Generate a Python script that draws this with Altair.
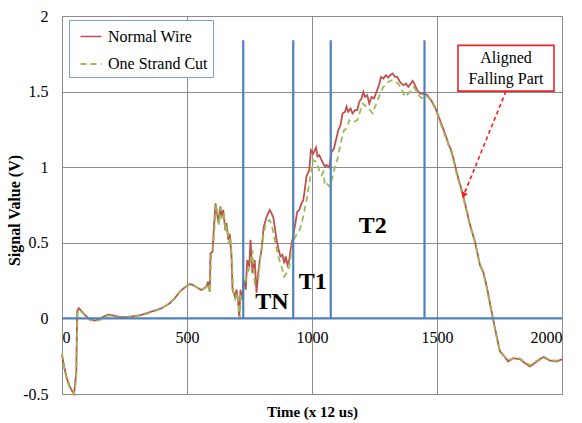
import altair as alt
import pandas as pd

# Sampled waveforms (time in units of 12 us, signal in volts)
normal_t = [0, 10, 20, 31, 37, 48, 57, 61, 67, 80, 91, 111, 131, 151, 170, 184, 200, 211, 238, 278,
            318, 358, 398, 431, 451, 471, 491, 511, 524, 544, 558, 578, 584, 591, 594, 602, 607, 614,
            620, 626, 634, 639, 645, 653, 658, 665, 671, 678, 682, 691, 698, 705, 709, 714, 721, 727,
            735, 741, 749, 754, 762, 771, 778, 785, 791, 798, 807, 818, 831, 838, 845, 851, 858, 867,
            874, 882, 889, 895, 902, 909, 914, 922, 931, 941, 949, 958, 965, 971, 978, 989, 996, 1005,
            1016, 1022, 1029, 1038, 1045, 1052, 1058, 1069, 1078, 1088, 1096, 1105, 1114, 1122, 1132,
            1138, 1145, 1154, 1162, 1172, 1181, 1189, 1198, 1205, 1212, 1221, 1229, 1238, 1248, 1258,
            1268, 1276, 1285, 1296, 1305, 1312, 1323, 1332, 1341, 1352, 1365, 1376, 1385, 1403, 1412,
            1421, 1432, 1443, 1459, 1472, 1492, 1512, 1532, 1545, 1559, 1572, 1585, 1599, 1612, 1632,
            1652, 1672, 1685, 1699, 1712, 1725, 1739, 1752, 1765, 1785, 1805, 1832, 1852, 1872, 1899,
            1925, 1952, 1979, 2000]
normal_v = [-0.24, -0.33, -0.40, -0.45, -0.47, -0.50, -0.36, 0.05, 0.067, 0.045, 0.023, -0.005, -0.015,
            -0.005, 0.015, 0.025, 0.02, 0.017, 0.008, 0.012, 0.023, 0.045, 0.067, 0.10, 0.133, 0.177,
            0.205, 0.228, 0.221, 0.20, 0.188, 0.21, 0.243, 0.177, 0.43, 0.44, 0.585, 0.76, 0.695, 0.63,
            0.74, 0.67, 0.717, 0.585, 0.63, 0.52, 0.56, 0.41, 0.19, 0.145, 0.19, 0.10, 0.012, 0.19,
            0.122, 0.254, 0.19, 0.386, 0.342, 0.52, 0.30, 0.386, 0.17, 0.30, 0.386, 0.45, 0.606, 0.67,
            0.717, 0.695, 0.67, 0.606, 0.52, 0.45, 0.41, 0.42, 0.364, 0.41, 0.353, 0.386, 0.45, 0.52,
            0.606, 0.705, 0.717, 0.76, 0.78, 0.85, 0.94, 0.98, 1.113, 1.09, 1.13, 1.07, 1.08, 1.047,
            1.025, 1.003, 1.014, 0.999, 1.10, 1.124, 1.18, 1.245, 1.278, 1.355, 1.366, 1.40, 1.366,
            1.388, 1.355, 1.377, 1.377, 1.432, 1.454, 1.498, 1.465, 1.476, 1.421, 1.465, 1.454, 1.498,
            1.542, 1.597, 1.586, 1.608, 1.593, 1.608, 1.62, 1.597, 1.597, 1.564, 1.542, 1.553, 1.531,
            1.571, 1.542, 1.509, 1.487, 1.487, 1.48, 1.454, 1.399, 1.311, 1.223, 1.157, 1.102, 1.014,
            0.926, 0.849, 0.761, 0.62, 0.507, 0.353, 0.309, 0.21, 0.10, -0.01, -0.12, -0.219, -0.241,
            -0.285, -0.263, -0.27, -0.296, -0.318, -0.285, -0.256, -0.279, -0.285, -0.27]

cut_t = [0, 10, 20, 31, 40, 48, 57, 62, 68, 80, 91, 111, 131, 151, 170, 184, 200, 211, 238, 278, 318,
         358, 398, 431, 451, 471, 491, 511, 524, 544, 558, 578, 586, 592, 597, 604, 610, 616, 622, 628,
         636, 641, 647, 655, 660, 667, 674, 680, 685, 693, 700, 707, 711, 716, 725, 738, 751, 762, 771,
         785, 794, 805, 815, 829, 838, 851, 865, 878, 889, 898, 909, 918, 927, 941, 951, 965, 975, 978,
         991, 998, 1005, 1018, 1029, 1038, 1045, 1052, 1058, 1072, 1082, 1092, 1101, 1109, 1118, 1128,
         1138, 1149, 1158, 1168, 1181, 1192, 1202, 1212, 1221, 1232, 1243, 1252, 1265, 1276, 1285,
         1296, 1305, 1318, 1332, 1345, 1358, 1372, 1385, 1398, 1408, 1419, 1432, 1445, 1459, 1472,
         1492, 1512, 1532, 1545, 1559, 1572, 1585, 1599, 1612, 1632, 1652, 1672, 1685, 1699, 1712,
         1725, 1739, 1752, 1765, 1785, 1805, 1832, 1852, 1872, 1899, 1925, 1952, 1979, 2000]
cut_v = [-0.23, -0.34, -0.41, -0.46, -0.48, -0.50, -0.40, 0.03, 0.06, 0.04, 0.02, -0.01, -0.02, -0.01,
         0.01, 0.02, 0.015, 0.01, 0.005, 0.01, 0.02, 0.04, 0.065, 0.10, 0.13, 0.175, 0.205, 0.225,
         0.22, 0.20, 0.19, 0.205, 0.23, 0.17, 0.42, 0.45, 0.60, 0.75, 0.70, 0.62, 0.73, 0.66, 0.70,
         0.57, 0.61, 0.50, 0.54, 0.38, 0.18, 0.13, 0.17, 0.08, 0.0, 0.15, 0.19, 0.276, 0.342, 0.45,
         0.232, 0.254, 0.41, 0.54, 0.63, 0.65, 0.63, 0.52, 0.41, 0.342, 0.276, 0.30, 0.342, 0.45,
         0.52, 0.563, 0.585, 0.672, 0.76, 0.78, 0.915, 0.98, 1.047, 1.036, 0.98, 0.948, 0.97, 0.882,
         0.893, 0.871, 0.937, 1.003, 1.047, 1.113, 1.18, 1.245, 1.256, 1.311, 1.30, 1.30, 1.311,
         1.366, 1.421, 1.41, 1.388, 1.377, 1.355, 1.399, 1.454, 1.498, 1.531, 1.542, 1.564, 1.575,
         1.564, 1.553, 1.52, 1.465, 1.487, 1.509, 1.531, 1.498, 1.465, 1.454, 1.47, 1.45, 1.39, 1.30,
         1.21, 1.15, 1.09, 1.00, 0.915, 0.835, 0.75, 0.61, 0.50, 0.35, 0.30, 0.20, 0.09, -0.02, -0.13,
         -0.225, -0.245, -0.275, -0.265, -0.265, -0.29, -0.31, -0.28, -0.25, -0.275, -0.28, -0.265]

series_names = ["Normal Wire", "One Strand Cut"]
series_colors = ["#C0504D", "#9BBB59"]

# Phase boundaries and phase names
boundary_t = [725, 925, 1075, 1450]
boundary_top = 1.84
phase_names = ["TN", "T1", "T2"]
phase_t = [840, 1003, 1243]
phase_v = [0.11, 0.24, 0.61]

# Callout box, text and arrow
note_lines = ["Aligned", "Falling Part"]
note_box = {"t0": 1584, "t1": 1968, "v0": 1.503, "v1": 1.806}
note_text_t = 1776
note_text_v = [1.72, 1.585]
arrow_from = (1776, 1.503)
arrow_to = (1608, 0.82)

x_ticks = [0, 500, 1000, 1500, 2000]
y_ticks = [-0.5, 0, 0.5, 1, 1.5, 2]

W, H = 500, 378
serif = "Liberation Serif"

waves = pd.concat([
    pd.DataFrame({"t": normal_t, "v": normal_v, "series": series_names[0], "order": range(len(normal_t))}),
    pd.DataFrame({"t": cut_t, "v": cut_v, "series": series_names[1], "order": range(len(cut_t))}),
])

x_scale = alt.Scale(domain=[0, 2000], nice=False, zero=False)
y_scale = alt.Scale(domain=[-0.5, 2], nice=False, zero=False)

# x axis sits on the zero line, as in a spreadsheet chart
x_axis = alt.Axis(values=x_ticks, grid=True, gridColor="#8C8C8C", gridWidth=1, domain=False,
                  ticks=False, labelFont=serif, labelFontSize=16, labelColor="black",
                  labelPadding=11, format="d", offset=-H * 0.5 / 2.5,
                  title="Time (x 12 us)", titleFont=serif, titleFontSize=15, titleFontWeight="bold",
                  titleColor="black", titleY=86)
y_axis = alt.Axis(values=y_ticks, grid=True, gridColor="#8C8C8C", gridWidth=1, domain=False,
                  ticks=False, labelFont=serif, labelFontSize=16, labelColor="black",
                  labelPadding=14,
                  labelExpr="replace(format(datum.value, '~g'), '\u2212', '-')",
                  title="Signal Value (V)", titleFont=serif, titleFontSize=16,
                  titleFontWeight="bold", titleColor="black", titleX=-40, titleY=194)

lines = alt.Chart(waves).mark_line(strokeWidth=1.8).encode(
    x=alt.X("t:Q", scale=x_scale, axis=x_axis),
    y=alt.Y("v:Q", scale=y_scale, axis=y_axis),
    color=alt.Color("series:N", scale=alt.Scale(domain=series_names, range=series_colors),
                    legend=alt.Legend(title=None, orient="none", legendX=7, legendY=4,
                                      strokeColor="#7F9FCF", fillColor="white",
                                      padding=5, rowPadding=7, symbolType="stroke",
                                      symbolSize=441, symbolStrokeWidth=2, symbolOffset=5,
                                      labelOffset=5,
                                      labelFont=serif, labelFontSize=16, labelColor="black")),
    strokeDash=alt.StrokeDash("series:N",
                              scale=alt.Scale(domain=series_names, range=[[1, 0], [6, 4]])),
    strokeWidth=alt.StrokeWidth("series:N",
                                scale=alt.Scale(domain=series_names, range=[1.6, 2.2]),
                                legend=None),
    order="order:Q",
)

boundaries = alt.Chart(pd.DataFrame({"t": boundary_t, "base": 0.0, "top": boundary_top})).mark_rule(
    color="#4F81BD", strokeWidth=2.2).encode(x="t:Q", y="base:Q", y2="top:Q")

zero_line = alt.Chart(pd.DataFrame({"a": [x_ticks[0]], "b": [x_ticks[-1]], "v": [0.0]})).mark_rule(
    color="#4F81BD", strokeWidth=2.2).encode(x="a:Q", x2="b:Q", y="v:Q")

phases = alt.Chart(pd.DataFrame({"name": phase_names, "t": phase_t, "v": phase_v})).mark_text(
    font=serif, fontSize=24, fontWeight="bold", color="black").encode(x="t:Q", y="v:Q", text="name:N")

box = alt.Chart(pd.DataFrame([note_box])).mark_rect(
    fill="white", stroke="#E8262B", strokeWidth=1.6).encode(x="t0:Q", x2="t1:Q", y="v0:Q", y2="v1:Q")

box_text = alt.Chart(pd.DataFrame({"txt": note_lines, "t": note_text_t, "v": note_text_v})).mark_text(
    font=serif, fontSize=16, color="black").encode(x="t:Q", y="v:Q", text="txt:N")

arrow_line = alt.Chart(pd.DataFrame({"a": [arrow_from[0]], "b": [arrow_to[0]],
                                     "va": [arrow_from[1]], "vb": [arrow_to[1]]})).mark_rule(
    color="#FF1A1A", strokeWidth=1.6, strokeDash=[4, 3]).encode(x="a:Q", x2="b:Q", y="va:Q", y2="vb:Q")

arrow_head = alt.Chart(pd.DataFrame({"t": [arrow_to[0]], "v": [arrow_to[1]]})).mark_point(
    shape="triangle", filled=True, color="#FF1A1A", size=45, angle=202, opacity=1).encode(
    x="t:Q", y="v:Q")

chart = alt.layer(lines, zero_line, boundaries, phases, box, box_text, arrow_line, arrow_head).properties(
    width=W, height=H,
    autosize=alt.AutoSizeParams(type="none"),
    padding={"left": 62, "top": 16, "right": 20, "bottom": 29},
).configure_view(stroke=None).configure(background="white")

chart.save("out.html", embed_options={"renderer": "svg", "actions": False})
